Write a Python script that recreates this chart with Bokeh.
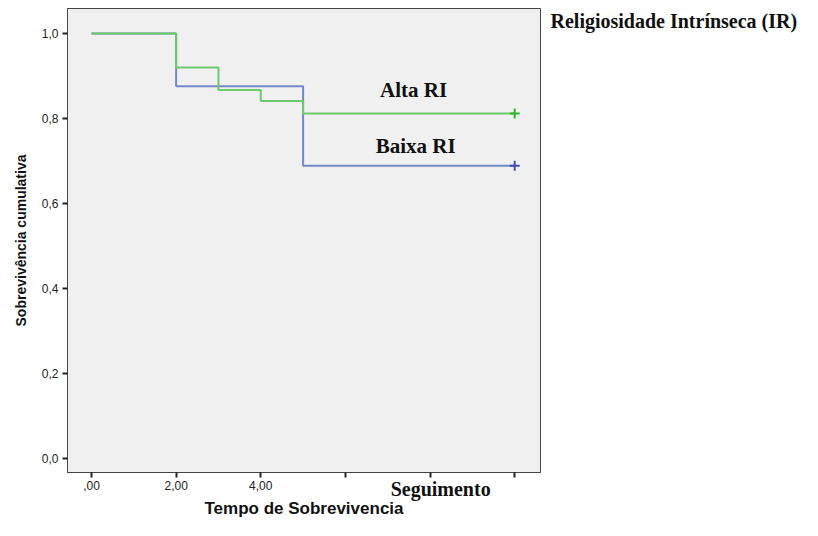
from bokeh.plotting import figure
from bokeh.models import Range1d, FixedTicker, Label, LinearAxis
from bokeh.embed import file_html
from bokeh.resources import INLINE

# data
alta_t = [0, 2, 3, 4, 5, 10]
alta_s = [1.0, 0.92, 0.867, 0.841, 0.812, 0.812]
baixa_t = [0, 2, 5, 10]
baixa_s = [1.0, 0.876, 0.689, 0.689]
censor_t = [10]
alta_censor = [0.812]
baixa_censor = [0.689]
x_ticks = [0, 2, 4, 6, 8, 10]
x_labels = [",00", "2,00", "4,00", "", "", ""]
y_ticks = [0, 0.2, 0.4, 0.6, 0.8, 1.0]
y_labels = ["0,0", "0,2", "0,4", "0,6", "0,8", "1,0"]

SANS = "Liberation Sans"
SERIF = "Liberation Serif"

p = figure(width=802, height=520, output_backend="svg", toolbar_location=None,
           x_range=Range1d(-0.567, 10.61), y_range=Range1d(-0.033, 1.0588),
           min_border_left=67, min_border_right=262, min_border_top=8, min_border_bottom=45)
p.background_fill_color = "#f0f0f0"
p.border_fill_color = "white"
p.outline_line_color = "#444444"
p.outline_line_width = 1
p.grid.visible = False


def style_axis(ax):
    ax.axis_line_color = "#444444"
    ax.major_tick_line_color = "#222222"
    ax.major_tick_line_width = 2
    ax.major_tick_in = 0
    ax.major_tick_out = 5
    ax.minor_tick_line_color = None
    ax.major_label_text_font = SANS
    ax.major_label_text_font_size = "12px"
    ax.major_label_text_color = "#222222"
    ax.axis_label_text_font = SANS
    ax.axis_label_text_font_style = "bold"
    ax.axis_label_text_color = "#111111"


style_axis(p.xaxis[0])
style_axis(p.yaxis[0])
p.xaxis.ticker = FixedTicker(ticks=x_ticks)
p.xaxis.major_label_overrides = {t: l for t, l in zip(x_ticks, x_labels)}
p.xaxis.major_label_standoff = 3
p.yaxis.ticker = FixedTicker(ticks=y_ticks)
p.yaxis.major_label_overrides = {t: l for t, l in zip(y_ticks, y_labels)}
p.yaxis.axis_label = "Sobrevivência cumulativa"
p.yaxis.axis_label_text_font_size = "14px"
p.yaxis.major_label_standoff = 4
p.yaxis.axis_label_standoff = 10

# second bottom axis: "Seguimento" + axis title
seg_ax = LinearAxis(ticker=FixedTicker(ticks=[8.25]),
                    major_label_overrides={8.25: "Seguimento"})
seg_ax.axis_line_color = None
seg_ax.major_tick_line_color = None
seg_ax.major_tick_out = 0
seg_ax.major_tick_in = 0
seg_ax.minor_tick_line_color = None
seg_ax.major_label_text_font = SERIF
seg_ax.major_label_text_font_style = "bold"
seg_ax.major_label_text_font_size = "20px"
seg_ax.major_label_text_color = "#111111"
seg_ax.major_label_standoff = -15
seg_ax.axis_label = "Tempo de Sobrevivencia"
seg_ax.axis_label_text_font = SANS
seg_ax.axis_label_text_font_style = "bold"
seg_ax.axis_label_text_font_size = "17px"
seg_ax.axis_label_text_color = "#111111"
seg_ax.axis_label_standoff = -4
p.add_layout(seg_ax, "below")

# right axis: legend title
r_ax = LinearAxis(ticker=FixedTicker(ticks=[1.03]),
                  major_label_overrides={1.03: "Religiosidade Intrínseca (IR)"})
r_ax.axis_line_color = None
r_ax.major_tick_line_color = None
r_ax.major_tick_out = 0
r_ax.major_tick_in = 0
r_ax.minor_tick_line_color = None
r_ax.major_label_text_font = SERIF
r_ax.major_label_text_font_style = "bold"
r_ax.major_label_text_font_size = "20px"
r_ax.major_label_text_color = "#111111"
r_ax.major_label_standoff = 10
p.add_layout(r_ax, "right")

p.step(baixa_t, baixa_s, mode="after", line_color="#7488c8", line_width=2)
p.step(alta_t, alta_s, mode="after", line_color="#6cc96c", line_width=2)
p.scatter(censor_t, alta_censor, marker="cross", size=10, line_color="#2db52d", line_width=2)
p.scatter(censor_t, baixa_censor, marker="cross", size=10, line_color="#3d50b0", line_width=2)


def lab(x, y, t):
    p.add_layout(Label(x=x, y=y, text=t, text_font=SERIF, text_font_style="bold",
                       text_font_size="21px", text_color="#111111", text_align="center",
                       text_baseline="middle"))


lab(7.61, 0.866, "Alta RI")
lab(7.66, 0.736, "Baixa RI")

open("out.html", "w").write(file_html(p, INLINE))
